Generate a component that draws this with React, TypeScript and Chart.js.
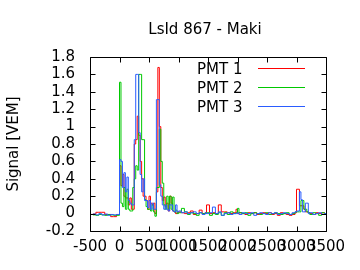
import React, { useEffect, useRef } from 'react';
import { Chart, registerables } from 'chart.js';

Chart.register(...registerables);

const TITLE = 'LsId 867 - Maki';
const Y_LABEL = 'Signal [VEM]';
const SERIES_LABELS = ['PMT 1', 'PMT 2', 'PMT 3'];
const SERIES_COLORS = ['#ff0000', '#00c800', '#2a5cff'];
const X_TICKS = [-500, 0, 500, 1000, 1500, 2000, 2500, 3000, 3500];
const Y_TICKS = [-0.2, 0, 0.2, 0.4, 0.6, 0.8, 1, 1.2, 1.4, 1.6, 1.8];

// bin start times [ns]
const TIME = [
  -500, -450, -400, -350, -300, -250, -200, -150, -100, -50,
  0, 25, 50, 75, 100, 125, 150, 175, 200, 225,
  250, 275, 300, 325, 350, 375, 400, 425, 450, 475,
  500, 525, 550, 575, 600, 625, 650, 675, 700, 725,
  750, 775, 800, 825, 850, 875, 900, 925, 950, 975,
  1000, 1050, 1100, 1150, 1200, 1250, 1300, 1350, 1400, 1450,
  1475, 1525, 1575, 1625, 1675, 1725, 1775, 1825, 1875, 1925,
  1975, 2000, 2025, 2075, 2125, 2175, 2225, 2275, 2325, 2375,
  2425, 2475, 2525, 2575, 2625, 2675, 2725, 2775, 2825, 2875,
  2925, 2975, 3000, 3025, 3050, 3075, 3100, 3125, 3150, 3175,
  3200, 3225, 3275, 3325, 3375, 3425, 3475, 3500,
];

const PMT1 = [
  -0.01, -0.005, 0.015, 0.015, 0.015, -0.01, -0.01, -0.035, -0.035, -0.01,
  0.55, 0.32, 0.45, 0.2, 0.18, 0.18, 0.1, 0.18, 0.05, 0.05,
  0.8, 0.85, 1.12, 0.9, 0.6, 0.4, 0.2, 0.2, 0.15, 0.05,
  0.2, 0.12, 0.1, 0.12, 0.0, 0.25, 1.68, 1.0, 0.3, 0.15,
  0.19, 0.08, 0.12, 0.03, 0.2, 0.12, 0.03, 0.02, 0.0, 0.01,
  0.02, 0.01, 0.0, 0.01, 0.03, -0.01, 0.0, 0.04, 0.0, 0.01,
  0.1, 0.0, 0.01, 0.0, 0.1, 0.02, 0.02, 0.01, 0.0, 0.01,
  0.05, 0.0, 0.01, 0.0, -0.01, 0.01, 0.0, 0.01, -0.01, 0.0,
  0.01, 0.0, 0.01, -0.01, 0.0, -0.02, 0.01, 0.0, -0.01, -0.02,
  -0.01, 0.01, 0.28, 0.28, 0.09, 0.09, 0.09, 0.05, 0.02, 0.02,
  0.01, 0.0, -0.01, 0.01, 0.0, 0.01, 0.0, 0.0,
];

const PMT2 = [
  -0.01, -0.015, -0.02, -0.01, -0.015, -0.02, -0.01, -0.015, -0.02, -0.02,
  1.51, 0.12, 0.08, 0.3, 0.05, 0.28, 0.05, 0.03, 0.03, 0.3,
  0.4, 0.55, 0.5, 1.6, 1.6, 0.85, 0.85, 0.16, 0.08, 0.05,
  0.05, 0.03, 0.1, 0.02, -0.03, 0.3, 0.3, 0.97, 0.6, 0.35,
  0.1, 0.05, 0.2, 0.05, 0.2, 0.05, 0.19, 0.02, 0.04, 0.0,
  0.01, 0.06, 0.02, -0.01, 0.01, 0.0, -0.02, 0.01, 0.0, 0.0,
  0.01, -0.02, 0.0, -0.01, 0.01, -0.02, 0.01, -0.01, 0.02, 0.0,
  0.01, 0.06, 0.01, 0.0, 0.01, -0.02, 0.0, 0.01, 0.0, -0.01,
  0.0, 0.01, -0.01, 0.0, 0.01, 0.0, -0.01, 0.0, 0.01, -0.01,
  0.0, 0.02, 0.02, 0.02, 0.02, 0.15, 0.15, 0.05, 0.05, 0.02,
  0.01, -0.01, 0.01, 0.0, -0.02, 0.01, 0.0, 0.0,
];

const PMT3 = [
  -0.01, -0.005, -0.015, 0.0, -0.015, -0.005, -0.02, -0.01, -0.015, -0.01,
  0.62, 0.6, 0.3, 0.47, 0.25, 0.42, 0.15, 0.12, 0.1, 0.1,
  0.85, 1.6, 1.6, 0.93, 0.45, 0.25, 0.4, 0.15, 0.15, 0.07,
  0.15, 0.05, 0.12, 0.05, 0.05, 1.31, 1.31, 0.33, 0.2, 0.1,
  0.05, 0.1, 0.05, 0.03, 0.1, 0.1, 0.03, 0.02, 0.1, 0.02,
  0.03, 0.01, 0.02, 0.0, 0.01, 0.02, 0.0, 0.01, -0.01, 0.01,
  0.0, 0.01, 0.075, 0.0, 0.02, -0.02, 0.0, 0.01, -0.01, 0.0,
  0.0, 0.01, -0.01, 0.01, 0.0, 0.0, 0.01, -0.02, 0.0, 0.01,
  0.0, -0.01, 0.01, 0.0, 0.01, -0.01, 0.0, 0.01, 0.0, -0.01,
  0.01, 0.02, 0.03, 0.03, 0.25, 0.16, 0.02, 0.02, 0.12, 0.12,
  0.0, 0.01, -0.01, 0.0, 0.01, -0.01, 0.0, 0.0,
];

const SERIES = [PMT1, PMT2, PMT3];
const FONT = 'DejaVu Sans';
const TICK_LEN = 5;

const gnuplotPlugin = {
  id: 'gnuplotFrame',
  afterDatasetsDraw(chart: any) {
    const { ctx, chartArea: a, scales } = chart;
    const L = Math.round(a.left) + 0.5;
    const R = Math.round(a.right) + 0.5;
    const T = Math.round(a.top) + 0.5;
    const B = Math.round(a.bottom) + 0.5;
    ctx.save();
    ctx.strokeStyle = '#000';
    ctx.lineWidth = 1;
    ctx.beginPath();
    ctx.rect(L, T, R - L, B - T);
    const xs = scales.x;
    const ys = scales.y;
    xs.ticks.forEach((t: any) => {
      const px = Math.round(xs.getPixelForValue(t.value)) + 0.5;
      ctx.moveTo(px, B); ctx.lineTo(px, B - TICK_LEN);
      ctx.moveTo(px, T); ctx.lineTo(px, T + TICK_LEN);
    });
    ys.ticks.forEach((t: any) => {
      const py = Math.round(ys.getPixelForValue(t.value)) + 0.5;
      ctx.moveTo(L, py); ctx.lineTo(L + TICK_LEN, py);
      ctx.moveTo(R, py); ctx.lineTo(R - TICK_LEN, py);
    });
    ctx.stroke();

    // key (legend), gnuplot style: text then line sample
    ctx.font = `15px "${FONT}"`;
    ctx.textAlign = 'left';
    ctx.textBaseline = 'alphabetic';
    chart.data.datasets.forEach((ds: any, i: number) => {
      const y = Math.round(68 + i * 18.8) + 0.5;
      ctx.fillStyle = '#000';
      ctx.fillText(ds.label, 197, y + 5);
      ctx.beginPath();
      ctx.strokeStyle = SERIES_COLORS[i];
      ctx.lineWidth = 1;
      ctx.moveTo(258, y);
      ctx.lineTo(305, y);
      ctx.stroke();
    });

    // title
    ctx.textAlign = 'center';
    ctx.fillStyle = '#000';
    ctx.fillText(TITLE, 205, 33.5);
    ctx.restore();
  },
};

export default function App() {
  const ref = useRef<HTMLCanvasElement | null>(null);
  useEffect(() => {
    if (!ref.current) return;
    const datasets = SERIES.map((vals, i) => ({
      label: SERIES_LABELS[i],
      data: TIME.map((t, j) => ({ x: t, y: vals[j] })),
      borderColor: SERIES_COLORS[i],
      backgroundColor: SERIES_COLORS[i],
      borderWidth: 1,
      pointRadius: 0,
      stepped: true,
      fill: false,
      order: SERIES.length - i,
    }));
    const chart = new Chart(ref.current, {
      type: 'line',
      data: { datasets },
      options: {
        animation: false,
        responsive: false,
        maintainAspectRatio: false,
        layout: { padding: { top: 57, right: 34, left: 0, bottom: 0 } },
        plugins: { legend: { display: false }, title: { display: false }, tooltip: { enabled: false } },
        scales: {
          x: {
            type: 'linear',
            min: -500,
            max: 3500,
            afterBuildTicks: (s: any) => { s.ticks = X_TICKS.map((v) => ({ value: v })); },
            afterFit: (s: any) => { s.height = 39; },
            grid: { display: false, drawTicks: false },
            border: { display: false },
            ticks: {
              autoSkip: false,
              maxRotation: 0,
              minRotation: 0,
              padding: 7,
              color: '#000',
              font: { family: FONT, size: 15 },
              callback: (v: any) => String(v),
            },
          },
          y: {
            type: 'linear',
            min: -0.2,
            max: 1.8,
            afterBuildTicks: (s: any) => { s.ticks = Y_TICKS.map((v) => ({ value: v })); },
            afterFit: (s: any) => { s.width = 90; },
            grid: { display: false, drawTicks: false },
            border: { display: false },
            title: {
              display: true,
              text: Y_LABEL,
              color: '#000',
              font: { family: FONT, size: 15 },
              padding: { top: 5, bottom: 0 },
            },
            ticks: {
              autoSkip: false,
              padding: 15,
              color: '#000',
              font: { family: FONT, size: 15 },
              callback: (v: any) => String(Math.round(Number(v) * 10) / 10),
            },
          },
        },
      },
      plugins: [gnuplotPlugin],
    });
    return () => chart.destroy();
  }, []);
  return (
    <div style={{ position: 'fixed', left: 0, top: 0, width: 360, height: 270, background: '#fff' }}>
      <canvas ref={ref} width={360} height={270} style={{ width: 360, height: 270 }} />
    </div>
  );
}
